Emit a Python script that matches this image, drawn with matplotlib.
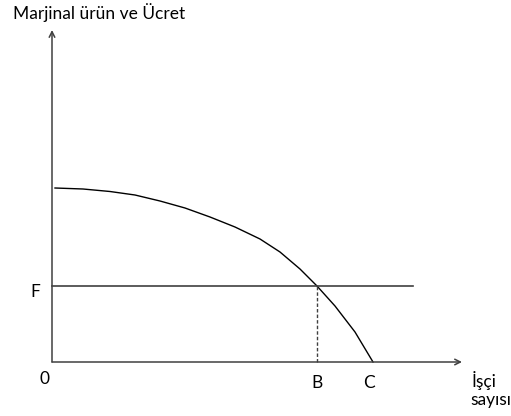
import matplotlib
matplotlib.use("Agg")
import matplotlib.pyplot as plt

# Data (pixel-like units, origin at axis corner)
curve_x = [3, 31, 58, 83, 108, 133, 158, 183, 208, 228, 248, 265, 283, 303, 321]
curve_y = [174, 173, 170.5, 167, 161, 154, 145, 135, 123, 110, 93, 76, 56, 30, 0]
wage_F = 76
wage_line_end = 361
B_x = 265
C_x = 321
x_axis_end = 410
y_axis_end = 332

title = "Marjinal ürün ve Ücret"
x_title_lines = ["İşçi", "sayısı"]

plt.rcParams['font.family'] = ['Lato', 'DejaVu Sans']
fig = plt.figure(figsize=(5.11, 4.16), dpi=100)
ax = fig.add_axes([0, 0, 1, 1])
ax.set_xlim(-52, 459)
ax.set_ylim(-54, 362)
ax.axis('off')

axc = '#404040'
ax.annotate('', xy=(x_axis_end, 0), xytext=(0, 0),
            arrowprops=dict(arrowstyle='->', color=axc, lw=1.1, shrinkA=0, shrinkB=0))
ax.annotate('', xy=(0, y_axis_end), xytext=(0, 0),
            arrowprops=dict(arrowstyle='->', color=axc, lw=1.1, shrinkA=0, shrinkB=0))

ax.plot(curve_x, curve_y, color='black', lw=1.0, solid_joinstyle='round')
ax.plot([0, wage_line_end], [wage_F, wage_F], color=axc, lw=1.2)
ax.plot([B_x, B_x], [0, wage_F], color=axc, lw=1.0, linestyle=(0, (2.5, 1.5)))

fs = 12.5
ax.text(-39, 343, title, fontsize=fs, ha='left', va='baseline')
ax.text(-17, 65, 'F', fontsize=fs, ha='center', va='baseline')
ax.text(-7, -22, '0', fontsize=fs, ha='center', va='baseline')
ax.text(B_x, -26, 'B', fontsize=fs, ha='center', va='baseline')
ax.text(C_x - 4, -26, 'C', fontsize=fs, ha='center', va='baseline')
ax.text(420, -25, x_title_lines[0], fontsize=fs, ha='left', va='baseline')
ax.text(418, -43, x_title_lines[1], fontsize=fs, ha='left', va='baseline')

fig.savefig('out.png', dpi=100)
